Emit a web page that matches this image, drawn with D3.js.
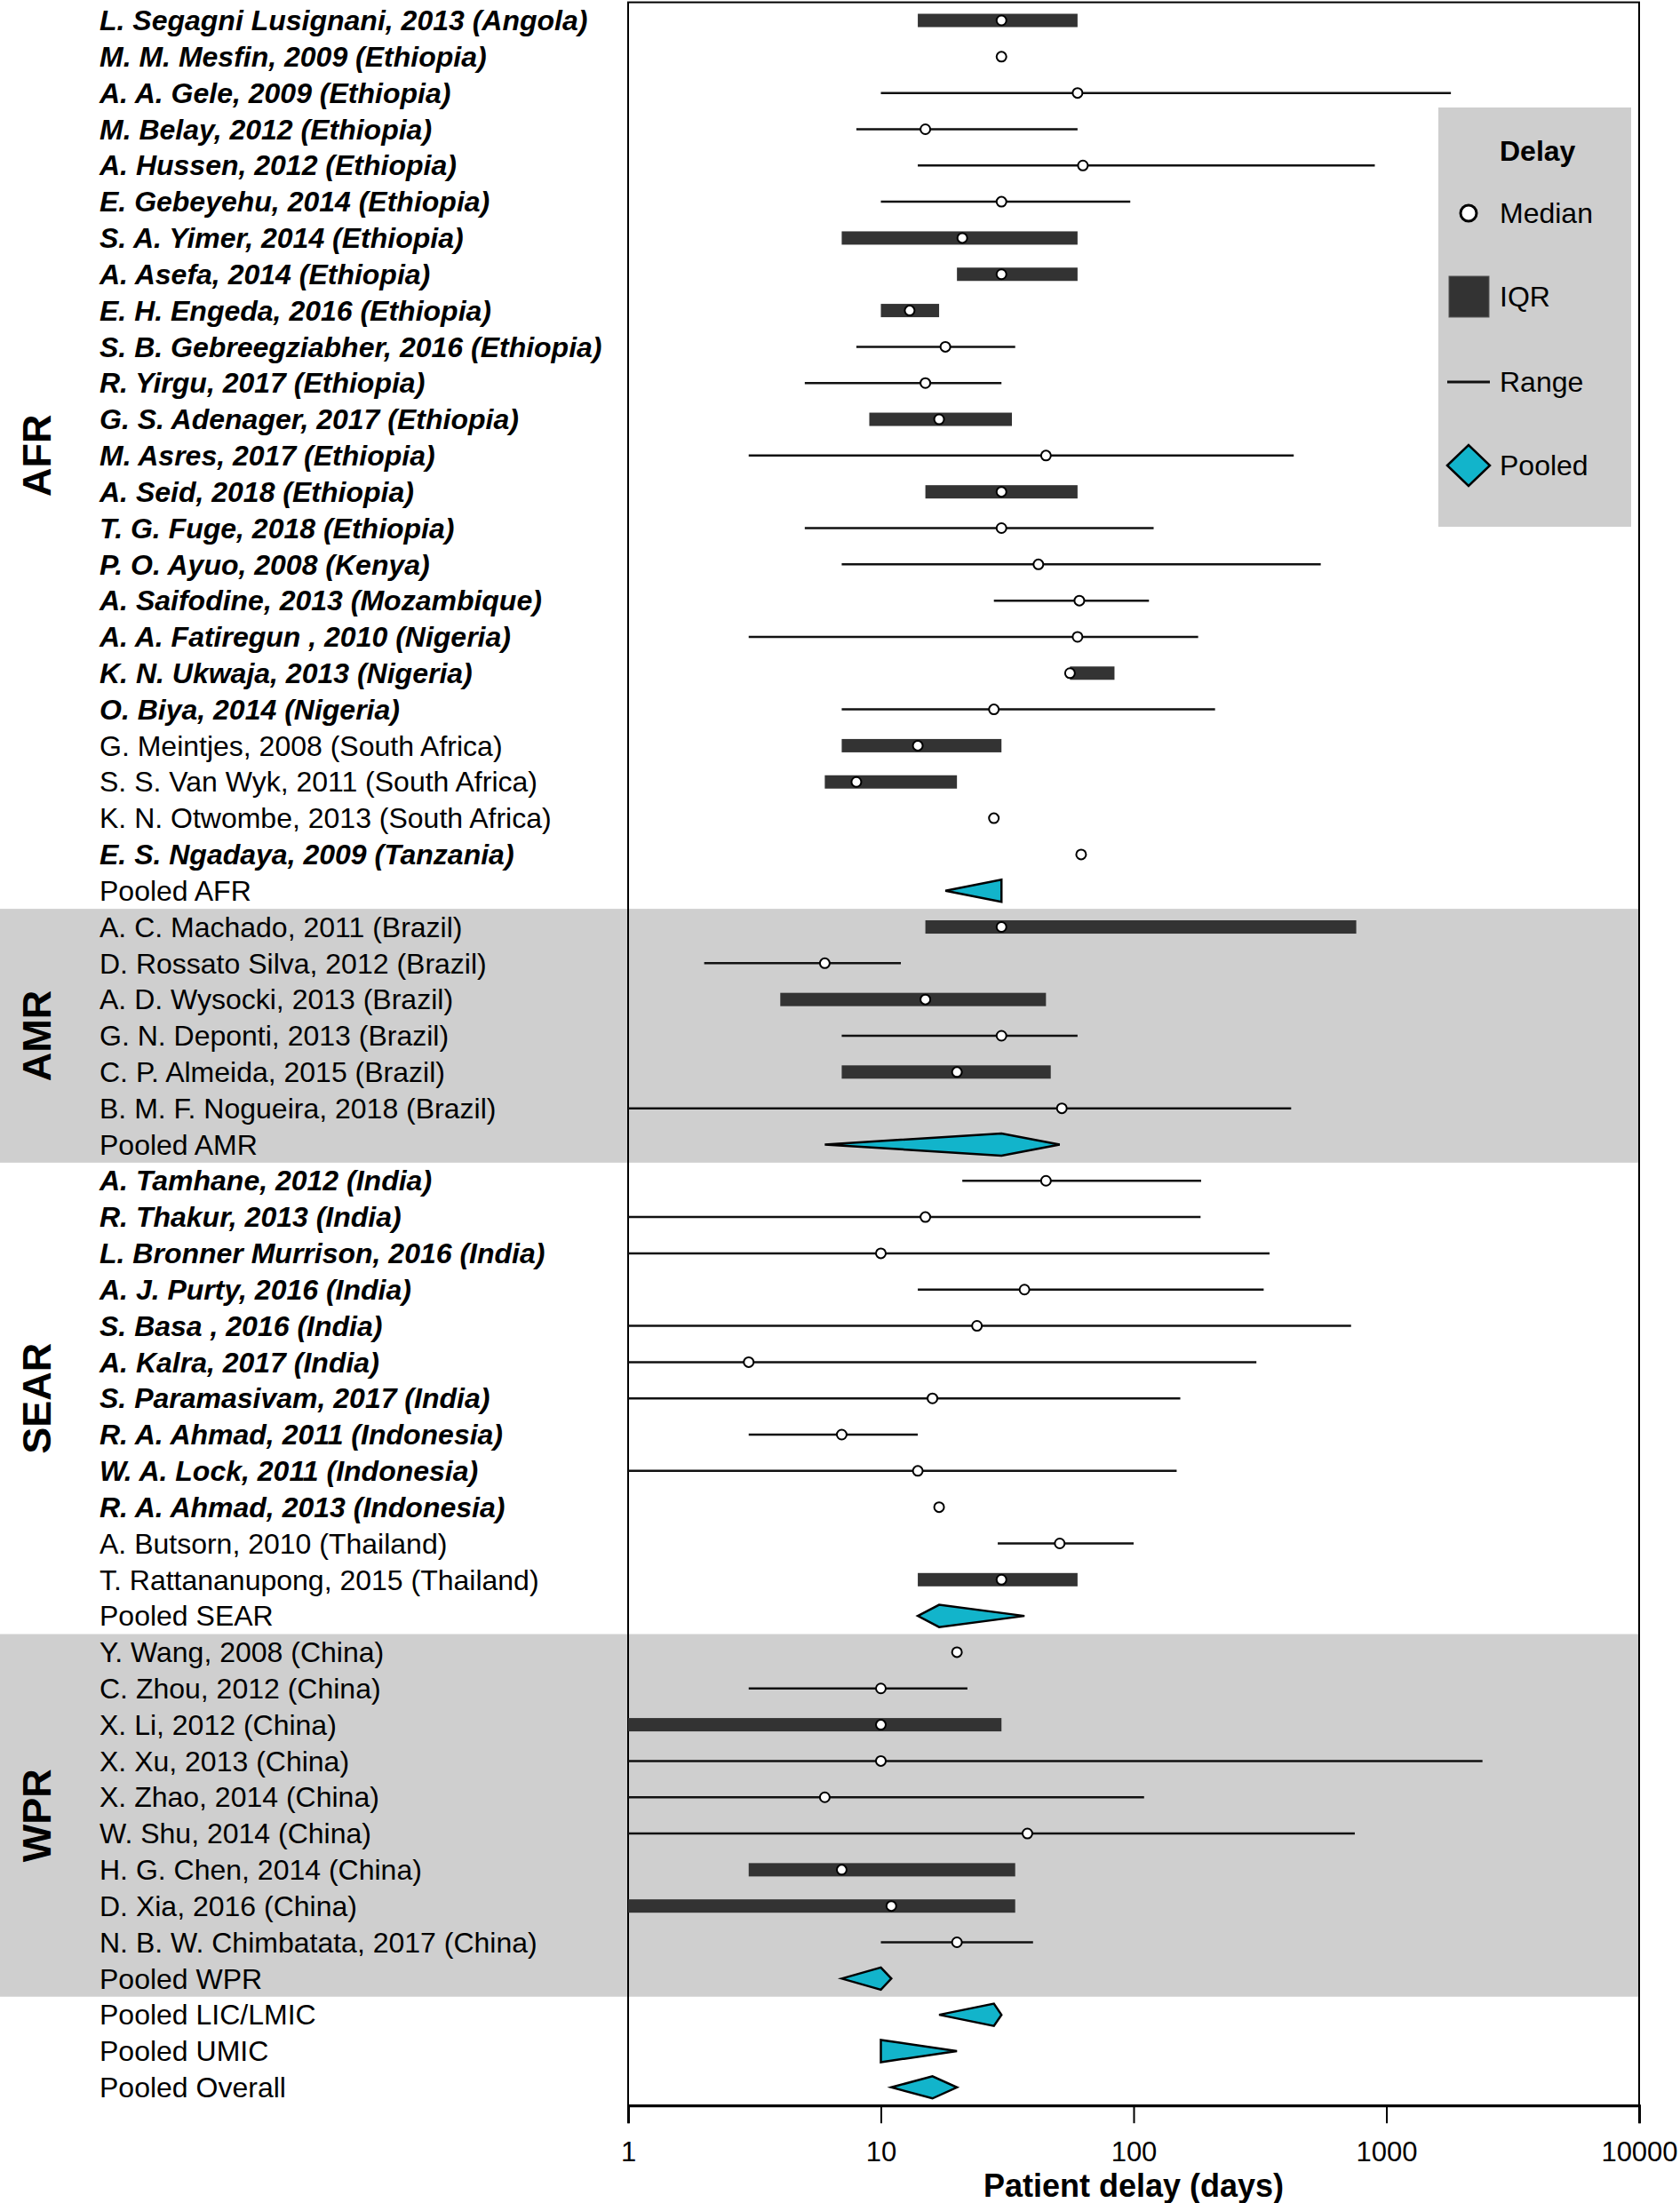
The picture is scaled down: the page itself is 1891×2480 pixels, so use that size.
<!DOCTYPE html>
<html>
<head>
<meta charset="utf-8">
<script src="https://cdn.jsdelivr.net/npm/d3@7"></script>
<style>
  body { margin: 0; background: #fff; }
  text { font-family: "Liberation Sans", Arial, sans-serif; fill: #000; }
</style>
</head>
<body>
<div id="chart"></div>
<script>
// regions, in drawing order, and how many studies each one has
const regions = ["AFR", "AMR", "SEAR", "WPR"];
const studiesPerRegion = [24, 6, 12, 9];

// countries counted as LIC/LMIC (their studies are set in bold italic)
const licCountries = ["Angola", "Ethiopia", "Kenya", "Mozambique", "Nigeria", "Tanzania", "India", "Indonesia"];

const studyLabels = [
    // AFR
    "L. Segagni Lusignani, 2013 (Angola)", "M. M. Mesfin, 2009 (Ethiopia)", "A. A. Gele, 2009 (Ethiopia)",
    "M. Belay, 2012 (Ethiopia)", "A. Hussen, 2012 (Ethiopia)", "E. Gebeyehu, 2014 (Ethiopia)",
    "S. A. Yimer, 2014 (Ethiopia)", "A. Asefa, 2014 (Ethiopia)", "E. H. Engeda, 2016 (Ethiopia)",
    "S. B. Gebreegziabher, 2016 (Ethiopia)", "R. Yirgu, 2017 (Ethiopia)", "G. S. Adenager, 2017 (Ethiopia)",
    "M. Asres, 2017 (Ethiopia)", "A. Seid, 2018 (Ethiopia)", "T. G. Fuge, 2018 (Ethiopia)",
    "P. O. Ayuo, 2008 (Kenya)", "A. Saifodine, 2013 (Mozambique)", "A. A. Fatiregun , 2010 (Nigeria)",
    "K. N. Ukwaja, 2013 (Nigeria)", "O. Biya, 2014 (Nigeria)", "G. Meintjes, 2008 (South Africa)",
    "S. S. Van Wyk, 2011 (South Africa)", "K. N. Otwombe, 2013 (South Africa)", "E. S. Ngadaya, 2009 (Tanzania)",
    // AMR
    "A. C. Machado, 2011 (Brazil)", "D. Rossato Silva, 2012 (Brazil)", "A. D. Wysocki, 2013 (Brazil)",
    "G. N. Deponti, 2013 (Brazil)", "C. P. Almeida, 2015 (Brazil)", "B. M. F. Nogueira, 2018 (Brazil)",
    // SEAR
    "A. Tamhane, 2012 (India)", "R. Thakur, 2013 (India)", "L. Bronner Murrison, 2016 (India)",
    "A. J. Purty, 2016 (India)", "S. Basa , 2016 (India)", "A. Kalra, 2017 (India)",
    "S. Paramasivam, 2017 (India)", "R. A. Ahmad, 2011 (Indonesia)", "W. A. Lock, 2011 (Indonesia)",
    "R. A. Ahmad, 2013 (Indonesia)", "A. Butsorn, 2010 (Thailand)", "T. Rattananupong, 2015 (Thailand)",
    // WPR
    "Y. Wang, 2008 (China)", "C. Zhou, 2012 (China)", "X. Li, 2012 (China)", "X. Xu, 2013 (China)",
    "X. Zhao, 2014 (China)", "W. Shu, 2014 (China)", "H. G. Chen, 2014 (China)", "D. Xia, 2016 (China)",
    "N. B. W. Chimbatata, 2017 (China)"
];

// median patient delay (days)
const medianDays = [
    30, 30, 60, 15, 63, 30, 21, 30, 13, 18, 15, 17, 45, 30, 30, 42, 61, 60, 56, 28, 14, 8, 28, 62,
    30, 6, 15, 30, 20, 52,
    45, 15, 10, 37, 24, 3, 16, 7, 14, 17, 51, 30,
    20, 10, 10, 10, 6, 38, 7, 11, 20
];

// interquartile range, null when not reported
const iqrDays = [
    [14, 60], null, null, null, null, null, [7, 60], [20, 60], [10, 17], null, null, [9, 33],
    null, [15, 60], null, null, null, null, [56, 84], null, [7, 30], [6, 20], null, null,
    [15, 760], null, [4, 45], null, [7, 47], null,
    null, null, null, null, null, null, null, null, null, null, null, [14, 60],
    null, null, [1, 30], null, null, null, [3, 34], [1, 34], null
];

// full range, null when not reported
const rangeDays = [
    null, null, [10, 1800], [8, 60], [14, 900], [10, 97], null, null, null, [8, 34], [5, 30], null,
    [3, 430], null, [5, 120], [7, 550], [28, 115], [3, 180], null, [7, 210], null, null, null, null,
    null, [2, 12], null, [7, 60], null, [1, 420],
    [21, 185], [1, 184], [1, 345], [14, 327], [1, 725], [1, 306], [1, 153], [3, 14], [1, 148], null, [29, 100], null,
    null, [3, 22], null, [1, 2400], [1, 110], [1, 750], null, null, [10, 40]
];

// pooled estimates: one per region, then by income group and overall
const pooledLabels = ["Pooled AFR", "Pooled AMR", "Pooled SEAR", "Pooled WPR", "Pooled LIC/LMIC", "Pooled UMIC", "Pooled Overall"];
const pooledLow = [18, 6, 14, 7, 17, 10, 11];
const pooledEst = [30, 30, 17, 10, 28, 10, 16];
const pooledHigh = [30, 51, 37, 11, 30, 20, 20];

const xTicks = [1, 10, 100, 1000, 10000];

// ---- build the rows in display order
const rows = [];
const blocks = [];
let s = 0;
regions.forEach((r, ri) => {
    const first = rows.length;
    for (let k = 0; k < studiesPerRegion[ri]; k++, s++) {
        const country = studyLabels[s].match(/\(([^)]+)\)$/)[1];
        rows.push({
            type: "study", label: studyLabels[s], median: medianDays[s],
            iqr: iqrDays[s], range: rangeDays[s], lic: licCountries.includes(country)
        });
    }
    rows.push({ type: "pooled", label: pooledLabels[ri], lo: pooledLow[ri], est: pooledEst[ri], hi: pooledHigh[ri] });
    blocks.push({ region: r, first: first, last: rows.length - 1, shaded: ri % 2 === 1 });
});
for (let p = regions.length; p < pooledLabels.length; p++) {
    rows.push({ type: "pooled", label: pooledLabels[p], lo: pooledLow[p], est: pooledEst[p], hi: pooledHigh[p] });
}

const width = 1891, height = 2480;
const plotLeft = 707, plotRight = 1845, plotTop = 2.6, plotBottom = 2370.2;

const svg = d3.select("#chart").append("svg")
    .attr("width", width)
    .attr("height", height);

const x = d3.scaleLog().domain([1, 10000]).range([plotLeft, plotRight]);
const y = d3.scaleBand().domain(d3.range(rows.length)).range([plotTop, plotBottom]);
const cy = i => y(i) + y.bandwidth() / 2;

// grey bands behind alternate regions
svg.append("g").selectAll("rect")
    .data(blocks.filter(b => b.shaded))
    .enter().append("rect")
    .attr("x", 0)
    .attr("y", b => y(b.first))
    .attr("width", plotRight)
    .attr("height", b => y(b.last) + y.bandwidth() - y(b.first))
    .attr("fill", "#cfcfcf");

// region names
svg.append("g").selectAll("text")
    .data(blocks)
    .enter().append("text")
    .attr("transform", b => `translate(41,${(cy(b.first) + cy(b.last)) / 2}) rotate(-90)`)
    .attr("text-anchor", "middle")
    .attr("dy", "0.35em")
    .style("font-size", "45px")
    .style("font-weight", "bold")
    .text(b => b.region);

// row labels
svg.append("g").selectAll("text")
    .data(rows)
    .enter().append("text")
    .attr("x", 112)
    .attr("y", (d, i) => cy(i))
    .attr("dy", "0.35em")
    .style("font-size", "32px")
    .style("font-weight", d => d.lic ? "bold" : "normal")
    .style("font-style", d => d.lic ? "italic" : "normal")
    .text(d => d.label);

// plot frame
svg.append("rect")
    .attr("x", plotLeft).attr("y", plotTop)
    .attr("width", plotRight - plotLeft).attr("height", plotBottom - plotTop)
    .attr("fill", "none")
    .attr("stroke", "#000")
    .attr("stroke-width", 2);

const marks = svg.append("g");
const studies = rows.map((d, i) => Object.assign({ i: i }, d)).filter(d => d.type === "study");

// ranges
marks.selectAll(".range")
    .data(studies.filter(d => d.range))
    .enter().append("line")
    .attr("class", "range")
    .attr("x1", d => x(d.range[0]))
    .attr("x2", d => x(d.range[1]))
    .attr("y1", d => cy(d.i))
    .attr("y2", d => cy(d.i))
    .attr("stroke", "#111")
    .attr("stroke-width", 2.5);

// IQR bars
marks.selectAll(".iqr")
    .data(studies.filter(d => d.iqr))
    .enter().append("rect")
    .attr("class", "iqr")
    .attr("x", d => x(d.iqr[0]))
    .attr("width", d => x(d.iqr[1]) - x(d.iqr[0]))
    .attr("y", d => cy(d.i) - 7.5)
    .attr("height", 15)
    .attr("fill", "#333");

// medians
marks.selectAll(".median")
    .data(studies)
    .enter().append("circle")
    .attr("class", "median")
    .attr("cx", d => x(d.median))
    .attr("cy", d => cy(d.i))
    .attr("r", 5.5)
    .attr("fill", "#fff")
    .attr("stroke", "#000")
    .attr("stroke-width", 2);

// pooled diamonds
const pooled = rows.map((d, i) => Object.assign({ i: i }, d)).filter(d => d.type === "pooled");
marks.selectAll(".pooled")
    .data(pooled)
    .enter().append("polygon")
    .attr("class", "pooled")
    .attr("points", d => {
        const c = cy(d.i), h = 12.5;
        return [[x(d.lo), c], [x(d.est), c - h], [x(d.hi), c], [x(d.est), c + h]].join(" ");
    })
    .attr("fill", "#12b4cb")
    .attr("stroke", "#000")
    .attr("stroke-width", 2.5)
    .attr("stroke-linejoin", "miter");

// x axis
const axis = svg.append("g")
    .attr("transform", `translate(0,${plotBottom})`)
    .call(d3.axisBottom(x)
        .tickValues(xTicks)
        .tickFormat(d3.format("d"))
        .tickSize(20)
        .tickPadding(21));
axis.select(".domain").attr("stroke-width", 3);
axis.selectAll(".tick line").attr("stroke-width", 2);
axis.selectAll(".tick text")
    .style("font-size", "31px")
    .style("font-family", "'Liberation Sans', Arial, sans-serif");

svg.append("text")
    .attr("x", (plotLeft + plotRight) / 2)
    .attr("y", 2473)
    .attr("text-anchor", "middle")
    .style("font-size", "36px")
    .style("font-weight", "bold")
    .text("Patient delay (days)");

// legend
const legend = svg.append("g");
legend.append("rect")
    .attr("x", 1619).attr("y", 121)
    .attr("width", 217).attr("height", 472)
    .attr("fill", "#cecece");
legend.append("text")
    .attr("x", 1688).attr("y", 170).attr("dy", "0.35em")
    .style("font-size", "32px").style("font-weight", "bold")
    .text("Delay");

const items = ["Median", "IQR", "Range", "Pooled"];
const itemY = [240, 334, 430, 524];
items.forEach((name, k) => {
    const yy = itemY[k];
    if (name === "Median") {
        legend.append("circle").attr("cx", 1653).attr("cy", yy).attr("r", 9)
            .attr("fill", "#fff").attr("stroke", "#000").attr("stroke-width", 3);
    } else if (name === "IQR") {
        legend.append("rect").attr("x", 1631).attr("y", yy - 23).attr("width", 45).attr("height", 46)
            .attr("fill", "#333").attr("stroke", "#555").attr("stroke-width", 1);
    } else if (name === "Range") {
        legend.append("line").attr("x1", 1629).attr("x2", 1677).attr("y1", yy).attr("y2", yy)
            .attr("stroke", "#111").attr("stroke-width", 3);
    } else {
        legend.append("polygon")
            .attr("points", [[1629, yy], [1653, yy - 23], [1677, yy], [1653, yy + 23]].join(" "))
            .attr("fill", "#12b4cb").attr("stroke", "#000").attr("stroke-width", 2.5);
    }
    legend.append("text")
        .attr("x", 1688).attr("y", yy).attr("dy", "0.35em")
        .style("font-size", "32px")
        .text(name);
});
</script>
</body>
</html>
